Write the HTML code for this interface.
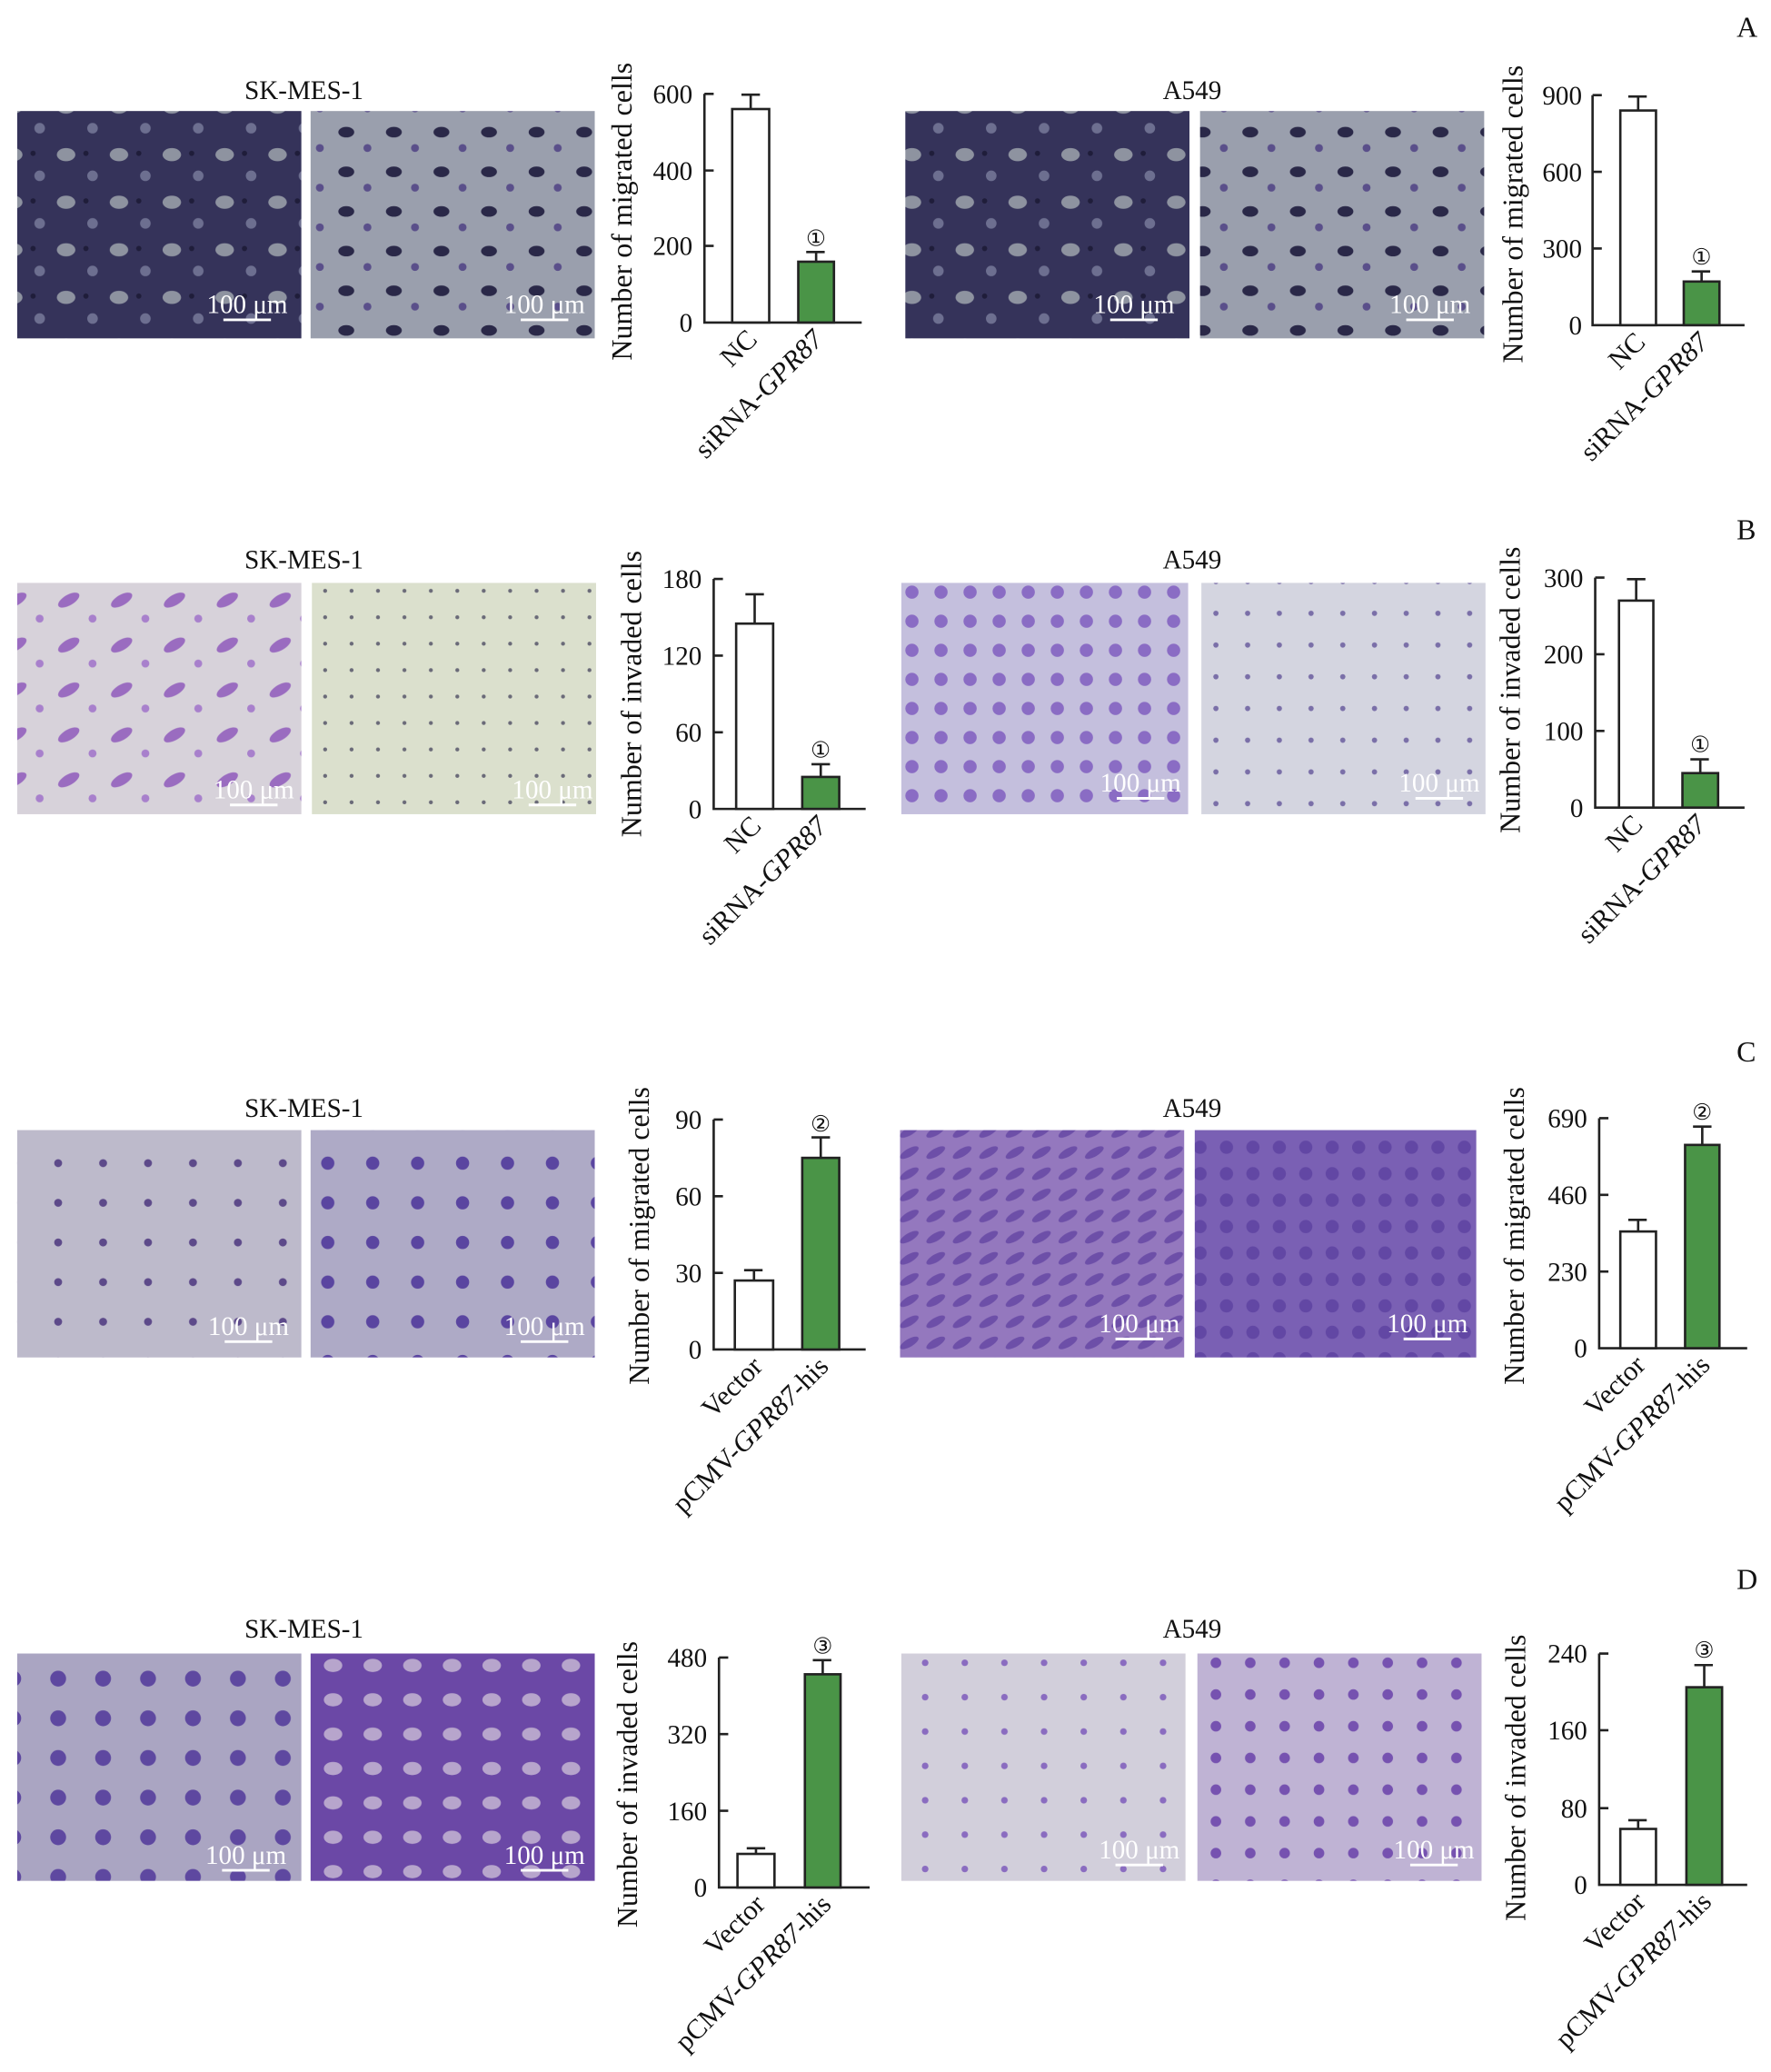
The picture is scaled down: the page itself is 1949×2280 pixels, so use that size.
<!DOCTYPE html>
<html><head><meta charset="utf-8"><style>body{margin:0;background:#fff}svg{display:block}text{font-family:"Liberation Serif",serif;fill:#111}</style></head><body>
<svg width="1949" height="2280" viewBox="0 0 1340 1567.6" xmlns="http://www.w3.org/2000/svg">
<defs>
<pattern id="pd" width="40" height="36" patternUnits="userSpaceOnUse"><rect width="40" height="36" fill="#35335a"/><ellipse cx="10" cy="9" rx="7" ry="5" fill="#8e93a0"/><circle cx="30" cy="25" r="4" fill="#6d6f90"/><circle cx="25" cy="8" r="2" fill="#1f1d3a"/></pattern>
<pattern id="pg" width="36" height="30" patternUnits="userSpaceOnUse"><rect width="36" height="30" fill="#9a9fad"/><ellipse cx="10" cy="10" rx="6" ry="4" fill="#2a2848"/><circle cx="26" cy="22" r="3" fill="#5a4f8a"/></pattern>
<pattern id="pb1" width="40" height="34" patternUnits="userSpaceOnUse"><rect width="40" height="34" fill="#d7d2da"/><ellipse cx="12" cy="12" rx="9" ry="4" fill="#9a6cc0" transform="rotate(-30 12 12)"/><circle cx="30" cy="26" r="3" fill="#a880cc"/></pattern>
<pattern id="pb2" width="20" height="20" patternUnits="userSpaceOnUse"><rect width="20" height="20" fill="#dbe0cd"/><circle cx="6" cy="7" r="1.5" fill="#6a6a78"/></pattern>
<pattern id="pb3" width="22" height="22" patternUnits="userSpaceOnUse"><rect width="22" height="22" fill="#c4bfdd"/><circle cx="8" cy="8" r="5" fill="#8a6cc4"/></pattern>
<pattern id="pb4" width="24" height="24" patternUnits="userSpaceOnUse"><rect width="24" height="24" fill="#d4d5e0"/><circle cx="8" cy="8" r="2" fill="#7a6fa8"/></pattern>
<pattern id="pc1" width="34" height="30" patternUnits="userSpaceOnUse"><rect width="34" height="30" fill="#bdbacb"/><circle cx="10" cy="10" r="3" fill="#5d4a8a"/></pattern>
<pattern id="pc2" width="34" height="30" patternUnits="userSpaceOnUse"><rect width="34" height="30" fill="#aeaac6"/><circle cx="10" cy="10" r="5" fill="#5a45a0"/></pattern>
<pattern id="pc3" width="20" height="16" patternUnits="userSpaceOnUse"><rect width="20" height="16" fill="#9478be"/><ellipse cx="8" cy="8" rx="8" ry="3" fill="#6d4fa8" transform="rotate(-30 8 8)"/></pattern>
<pattern id="pc4" width="20" height="20" patternUnits="userSpaceOnUse"><rect width="20" height="20" fill="#7a60b4"/><circle cx="8" cy="8" r="5" fill="#6247a4"/></pattern>
<pattern id="pd1" width="34" height="30" patternUnits="userSpaceOnUse"><rect width="34" height="30" fill="#aaa5c2"/><circle cx="10" cy="10" r="6" fill="#5e48a0"/></pattern>
<pattern id="pd2" width="30" height="26" patternUnits="userSpaceOnUse"><rect width="30" height="26" fill="#6b48a6"/><ellipse cx="12" cy="12" rx="7" ry="5" fill="#b7a5cc"/></pattern>
<pattern id="pd3" width="30" height="26" patternUnits="userSpaceOnUse"><rect width="30" height="26" fill="#d2cfdb"/><circle cx="10" cy="10" r="2.5" fill="#8a6cc0"/></pattern>
<pattern id="pd4" width="26" height="24" patternUnits="userSpaceOnUse"><rect width="26" height="24" fill="#bfb3d4"/><circle cx="10" cy="10" r="4" fill="#7652b0"/></pattern>
</defs>
<g font-size="22"><text x="1314" y="28">A</text><text x="1314" y="408">B</text><text x="1314" y="803">C</text><text x="1314" y="1202">D</text></g>
<g font-size="20" text-anchor="middle"><text x="230" y="75">SK-MES-1</text><text x="902" y="75">A549</text><text x="230" y="430">SK-MES-1</text><text x="902" y="430">A549</text><text x="230" y="845">SK-MES-1</text><text x="902" y="845">A549</text><text x="230" y="1239">SK-MES-1</text><text x="902" y="1239">A549</text></g>
<rect x="13" y="84" width="215" height="172" fill="url(#pd)"/><rect x="235" y="84" width="215" height="172" fill="url(#pg)"/>
<rect x="685" y="84" width="215" height="172" fill="url(#pd)"/><rect x="908" y="84" width="215" height="172" fill="url(#pg)"/>
<rect x="13" y="441" width="215" height="175" fill="url(#pb1)"/><rect x="236" y="441" width="215" height="175" fill="url(#pb2)"/>
<rect x="682" y="441" width="217" height="175" fill="url(#pb3)"/><rect x="909" y="441" width="215" height="175" fill="url(#pb4)"/>
<rect x="13" y="855" width="215" height="172" fill="url(#pc1)"/><rect x="235" y="855" width="215" height="172" fill="url(#pc2)"/>
<rect x="681" y="855" width="215" height="172" fill="url(#pc3)"/><rect x="904" y="855" width="213" height="172" fill="url(#pc4)"/>
<rect x="13" y="1251" width="215" height="172" fill="url(#pd1)"/><rect x="235" y="1251" width="215" height="172" fill="url(#pd2)"/>
<rect x="682" y="1251" width="215" height="172" fill="url(#pd3)"/><rect x="906" y="1251" width="215" height="172" fill="url(#pd4)"/>
<g font-size="20" text-anchor="middle">
<text x="187" y="237" style="fill:#fff">100 μm</text><text x="412" y="237" style="fill:#fff">100 μm</text><text x="858" y="237" style="fill:#fff">100 μm</text><text x="1082" y="237" style="fill:#fff">100 μm</text>
<text x="192" y="604" style="fill:#fff">100 μm</text><text x="418" y="604" style="fill:#fff">100 μm</text><text x="863" y="599" style="fill:#fff">100 μm</text><text x="1089" y="599" style="fill:#fff">100 μm</text>
<text x="188" y="1010" style="fill:#fff">100 μm</text><text x="412" y="1010" style="fill:#fff">100 μm</text><text x="862" y="1008" style="fill:#fff">100 μm</text><text x="1080" y="1008" style="fill:#fff">100 μm</text>
<text x="186" y="1410" style="fill:#fff">100 μm</text><text x="412" y="1410" style="fill:#fff">100 μm</text><text x="862" y="1406" style="fill:#fff">100 μm</text><text x="1085" y="1406" style="fill:#fff">100 μm</text>
</g>
<g stroke="#fff" stroke-width="2">
<line x1="169" y1="242" x2="205" y2="242"/><line x1="394" y1="242" x2="430" y2="242"/><line x1="840" y1="242" x2="876" y2="242"/><line x1="1064" y1="242" x2="1100" y2="242"/>
<line x1="174" y1="609" x2="210" y2="609"/><line x1="400" y1="609" x2="436" y2="609"/><line x1="845" y1="604" x2="881" y2="604"/><line x1="1071" y1="604" x2="1107" y2="604"/>
<line x1="170" y1="1015" x2="206" y2="1015"/><line x1="394" y1="1015" x2="430" y2="1015"/><line x1="844" y1="1013" x2="880" y2="1013"/><line x1="1062" y1="1013" x2="1098" y2="1013"/>
<line x1="168" y1="1415" x2="204" y2="1415"/><line x1="394" y1="1415" x2="430" y2="1415"/><line x1="844" y1="1411" x2="880" y2="1411"/><line x1="1067" y1="1411" x2="1103" y2="1411"/>
</g>
<g stroke="#222" stroke-width="1.8" fill="none">
<path d="M533 71V244H652M533 71h7M533 129h7M533 186h7"/>
<rect x="554" y="82.5" width="28" height="161.5" fill="#fff"/><path d="M568 82.5V71.6M561 71.6h14"/>
<rect x="604" y="198" width="27" height="46" fill="#4a9447"/><path d="M617.5 198V190.7M610 190.7h14"/>
<path d="M1205 72V246H1320M1205 72h7M1205 130h7M1205 188h7"/>
<rect x="1226" y="83.6" width="27" height="162.4" fill="#fff"/><path d="M1239.5 83.6V73M1232 73h14"/>
<rect x="1274" y="213" width="27" height="33" fill="#4a9447"/><path d="M1287.5 213V205.4M1280 205.4h14"/>
<path d="M540 438V612H655M540 438h7M540 496h7M540 554h7"/>
<rect x="557" y="471.8" width="28" height="140.2" fill="#fff"/><path d="M571 471.8V449.6M564 449.6h14"/>
<rect x="607" y="587.8" width="28" height="24.2" fill="#4a9447"/><path d="M621 587.8V578.2M614 578.2h14"/>
<path d="M1207 437V611H1320M1207 437h7M1207 495h7M1207 553h7"/>
<rect x="1225" y="454.4" width="26" height="156.6" fill="#fff"/><path d="M1238 454.4V438.2M1231 438.2h14"/>
<rect x="1273" y="584.9" width="27" height="26.1" fill="#4a9447"/><path d="M1286.5 584.9V574.5M1279 574.5h14"/>
<path d="M540 847V1021H655M540 847h7M540 905h7M540 963h7"/>
<rect x="556" y="968.8" width="29" height="52.2" fill="#fff"/><path d="M570.5 968.8V961M563 961h14"/>
<rect x="607" y="876" width="28" height="145" fill="#4a9447"/><path d="M621 876V860.5M614 860.5h14"/>
<path d="M1210 846V1020H1322M1210 846h7M1210 904h7M1210 962h7"/>
<rect x="1226" y="931.7" width="27" height="88.3" fill="#fff"/><path d="M1239.5 931.7V922.9M1232 922.9h14"/>
<rect x="1275" y="866.2" width="26" height="153.8" fill="#4a9447"/><path d="M1288 866.2V852.3M1281 852.3h14"/>
<path d="M544 1254V1428H658M544 1254h7M544 1312h7M544 1370h7"/>
<rect x="558" y="1402.6" width="28" height="25.4" fill="#fff"/><path d="M572 1402.6V1398.3M565 1398.3h14"/>
<rect x="609" y="1266.7" width="27" height="161.3" fill="#4a9447"/><path d="M622.5 1266.7V1256M615 1256h14"/>
<path d="M1210 1251V1426H1322M1210 1251h7M1210 1309h7M1210 1368h7"/>
<rect x="1226" y="1383.7" width="27" height="42.3" fill="#fff"/><path d="M1239.5 1383.7V1377.1M1232 1377.1h14"/>
<rect x="1276" y="1276.5" width="27" height="149.5" fill="#4a9447"/><path d="M1289.5 1276.5V1259.75M1282 1259.75h14"/>
</g>
<g font-size="20" text-anchor="end">
<text x="524" y="78">600</text><text x="524" y="136">400</text><text x="524" y="193">200</text><text x="524" y="251">0</text>
<text x="1197" y="79">900</text><text x="1197" y="137">600</text><text x="1197" y="195">300</text><text x="1197" y="253">0</text>
<text x="531" y="445">180</text><text x="531" y="503">120</text><text x="531" y="561">60</text><text x="531" y="619">0</text>
<text x="1198" y="444">300</text><text x="1198" y="502">200</text><text x="1198" y="560">100</text><text x="1198" y="618">0</text>
<text x="531" y="854">90</text><text x="531" y="912">60</text><text x="531" y="970">30</text><text x="531" y="1028">0</text>
<text x="1201" y="853">690</text><text x="1201" y="911">460</text><text x="1201" y="969">230</text><text x="1201" y="1027">0</text>
<text x="535" y="1261">480</text><text x="535" y="1319">320</text><text x="535" y="1377">160</text><text x="535" y="1435">0</text>
<text x="1201" y="1258">240</text><text x="1201" y="1316">160</text><text x="1201" y="1375">80</text><text x="1201" y="1433">0</text>
</g>
<g font-size="17" text-anchor="middle">
<text x="617.5" y="186">①</text><text x="1287.5" y="200">①</text><text x="621" y="573">①</text><text x="1286.5" y="569">①</text>
<text x="621" y="856">②</text><text x="1288" y="847">②</text><text x="622.5" y="1251">③</text><text x="1289.5" y="1254">③</text>
</g>
<g font-size="22" text-anchor="middle">
<text transform="translate(478,160) rotate(-90)">Number of migrated cells</text>
<text transform="translate(1152,162) rotate(-90)">Number of migrated cells</text>
<text transform="translate(485,525) rotate(-90)">Number of invaded cells</text>
<text transform="translate(1150,522) rotate(-90)">Number of invaded cells</text>
<text transform="translate(491,935) rotate(-90)">Number of migrated cells</text>
<text transform="translate(1153,935) rotate(-90)">Number of migrated cells</text>
<text transform="translate(482,1350) rotate(-90)">Number of invaded cells</text>
<text transform="translate(1154,1345) rotate(-90)">Number of invaded cells</text>
</g>
<g font-size="21" text-anchor="end">
<text transform="translate(574,258) rotate(-45)">NC</text>
<text transform="translate(624,258) rotate(-45)">siRNA-<tspan font-style="italic">GPR87</tspan></text>
<text transform="translate(1246,260) rotate(-45)">NC</text>
<text transform="translate(1294,260) rotate(-45)">siRNA-<tspan font-style="italic">GPR87</tspan></text>
<text transform="translate(577,626) rotate(-45)">NC</text>
<text transform="translate(627,626) rotate(-45)">siRNA-<tspan font-style="italic">GPR87</tspan></text>
<text transform="translate(1244,625) rotate(-45)">NC</text>
<text transform="translate(1292,625) rotate(-45)">siRNA-<tspan font-style="italic">GPR87</tspan></text>
<text transform="translate(578,1035) rotate(-45)">Vector</text>
<text transform="translate(628,1035) rotate(-45)">pCMV-<tspan font-style="italic">GPR87</tspan>-his</text>
<text transform="translate(1246,1034) rotate(-45)">Vector</text>
<text transform="translate(1295,1034) rotate(-45)">pCMV-<tspan font-style="italic">GPR87</tspan>-his</text>
<text transform="translate(580,1442) rotate(-45)">Vector</text>
<text transform="translate(630,1442) rotate(-45)">pCMV-<tspan font-style="italic">GPR87</tspan>-his</text>
<text transform="translate(1246,1440) rotate(-45)">Vector</text>
<text transform="translate(1296,1440) rotate(-45)">pCMV-<tspan font-style="italic">GPR87</tspan>-his</text>
</g>
</svg>
</body></html>
